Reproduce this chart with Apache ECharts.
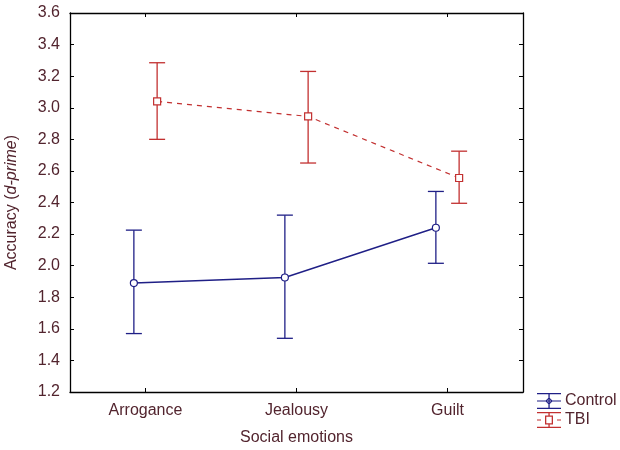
<!DOCTYPE html>
<html>
<head>
<meta charset="utf-8">
<script src="https://cdn.jsdelivr.net/npm/echarts@6/dist/echarts.min.js"></script>
<style>
  html, body { margin: 0; padding: 0; background: #fff; }
  #chart { width: 620px; height: 450px; }
</style>
</head>
<body>
<div id="chart"></div>
<script>
// values
var categories = ['Arrogance', 'Jealousy', 'Guilt']
var controlMean = [1.89, 1.925, 2.24]
var controlLow = [1.57, 1.54, 2.015]
var controlHigh = [2.225, 2.32, 2.47]
var tbiMean = [3.04, 2.945, 2.555]
var tbiLow = [2.80, 2.65, 2.395]
var tbiHigh = [3.285, 3.23, 2.725]
var yTicks = [1.2, 3.6, 0.2] // min, max, step

var textColor = '#52242e'
var blue = '#1f1f86'
var red = '#c23030'
var shift = 0.077 // groups sit a little left / right of each tick
var fs = 16

function points(mean, dx) {
  return mean.map(function (v, i) { return [i + dx, v] })
}
function bars(low, high, dx) {
  return low.map(function (v, i) { return [i + dx, v, high[i]] })
}

function errorBar(color) {
  return function (params, api) {
    var top = api.coord([api.value(0), api.value(2)])
    var bot = api.coord([api.value(0), api.value(1)])
    var half = 8
    var style = { stroke: color, lineWidth: 1.3 }
    return {
      type: 'group',
      children: [
        { type: 'line', shape: { x1: top[0], y1: top[1], x2: bot[0], y2: bot[1] }, style: style },
        { type: 'line', shape: { x1: top[0] - half, y1: top[1], x2: top[0] + half, y2: top[1] }, style: style },
        { type: 'line', shape: { x1: bot[0] - half, y1: bot[1], x2: bot[0] + half, y2: bot[1] }, style: style }
      ]
    }
  }
}

// legend glyphs: caps, stem, middle line and marker outline
var controlIcon = 'path://M0,0h24v1.3h-24z M11.4,0h1.3v16h-1.3z M0,14.7h24v1.3h-24z M0,7.4h24v1.2h-24z M12,4.2L15.8,8L12,11.8L8.2,8z M12,5.6L9.6,8L12,10.4L14.4,8z'
var tbiIcon = 'path://M0,0h24v1.3h-24z M11.4,0h1.3v3.5h-1.3z M11.4,12.5h1.3v3.5h-1.3z M0,14.7h24v1.3h-24z M0,7.4h4v1.2h-4z M20,7.4h4v1.2h-4z M8,3.5h8v9h-8z M9.3,4.8v6.4h5.4v-6.4z'

var chart = echarts.init(document.getElementById('chart'))

var tickStyle = { show: true, inside: true, length: 4, lineStyle: { color: '#000' } }
var lineStyle = { show: true, onZero: false, lineStyle: { color: '#000', width: 1.3 } }

chart.setOption({
  animation: false,
  backgroundColor: '#fff',
  textStyle: { fontFamily: 'Liberation Sans, Arial, sans-serif' },
  grid: { left: 70, right: 97, top: 13, bottom: 58, containLabel: false, outerBoundsMode: 'none' },
  legend: {
    orient: 'vertical',
    left: 532,
    top: 388,
    itemWidth: 24,
    itemHeight: 16,
    itemGap: 3,
    textStyle: { color: textColor, fontSize: fs, padding: [0, 0, 0, -1] },
    data: [
      { name: 'Control', icon: controlIcon, itemStyle: { color: blue } },
      { name: 'TBI', icon: tbiIcon, itemStyle: { color: red } }
    ]
  },
  xAxis: [
    {
      type: 'category',
      data: categories,
      position: 'bottom',
      name: 'Social emotions',
      nameLocation: 'middle',
      nameGap: 38,
      nameTextStyle: { color: textColor, fontSize: fs },
      axisLine: lineStyle,
      axisTick: Object.assign({ alignWithLabel: true }, tickStyle),
      axisLabel: { color: textColor, fontSize: fs, margin: 11 },
      splitLine: { show: false }
    },
    {
      type: 'category',
      data: categories,
      position: 'top',
      axisLine: lineStyle,
      axisTick: Object.assign({ alignWithLabel: true }, tickStyle),
      axisLabel: { show: false },
      splitLine: { show: false }
    },
    {
      type: 'value',
      min: -0.5,
      max: 2.5,
      show: false
    }
  ],
  yAxis: [
    {
      type: 'value',
      min: yTicks[0],
      max: yTicks[1],
      interval: yTicks[2],
      position: 'left',
      name: '{n|Accuracy (}{i|d-prime}{n|)}',
      nameLocation: 'middle',
      nameGap: 50,
      nameTextStyle: {
        rich: {
          n: { color: textColor, fontSize: fs },
          i: { color: textColor, fontSize: fs, fontStyle: 'italic' }
        }
      },
      axisLine: lineStyle,
      axisTick: tickStyle,
      axisLabel: {
        color: textColor,
        fontSize: fs,
        margin: 10,
        formatter: function (v) { return v.toFixed(1) }
      },
      splitLine: { show: false }
    },
    {
      type: 'value',
      min: yTicks[0],
      max: yTicks[1],
      interval: yTicks[2],
      position: 'right',
      axisLine: lineStyle,
      axisTick: tickStyle,
      axisLabel: { show: false },
      splitLine: { show: false }
    }
  ],
  series: [
    {
      name: 'Control',
      type: 'custom',
      xAxisIndex: 2,
      renderItem: errorBar(blue),
      data: bars(controlLow, controlHigh, -shift),
      z: 2
    },
    {
      name: 'TBI',
      type: 'custom',
      xAxisIndex: 2,
      renderItem: errorBar(red),
      data: bars(tbiLow, tbiHigh, shift),
      z: 2
    },
    {
      name: 'Control',
      type: 'line',
      xAxisIndex: 2,
      data: points(controlMean, -shift),
      symbol: 'circle',
      symbolSize: 7,
      showSymbol: true,
      lineStyle: { color: blue, width: 1.4 },
      itemStyle: { color: '#fff', borderColor: blue, borderWidth: 1.2 },
      z: 3
    },
    {
      name: 'TBI',
      type: 'line',
      xAxisIndex: 2,
      data: points(tbiMean, shift),
      symbol: 'rect',
      symbolSize: 7,
      showSymbol: true,
      lineStyle: { color: red, width: 1.2, type: [5, 5] },
      itemStyle: { color: '#fff', borderColor: red, borderWidth: 1.2 },
      z: 3
    }
  ]
})
</script>
</body>
</html>
